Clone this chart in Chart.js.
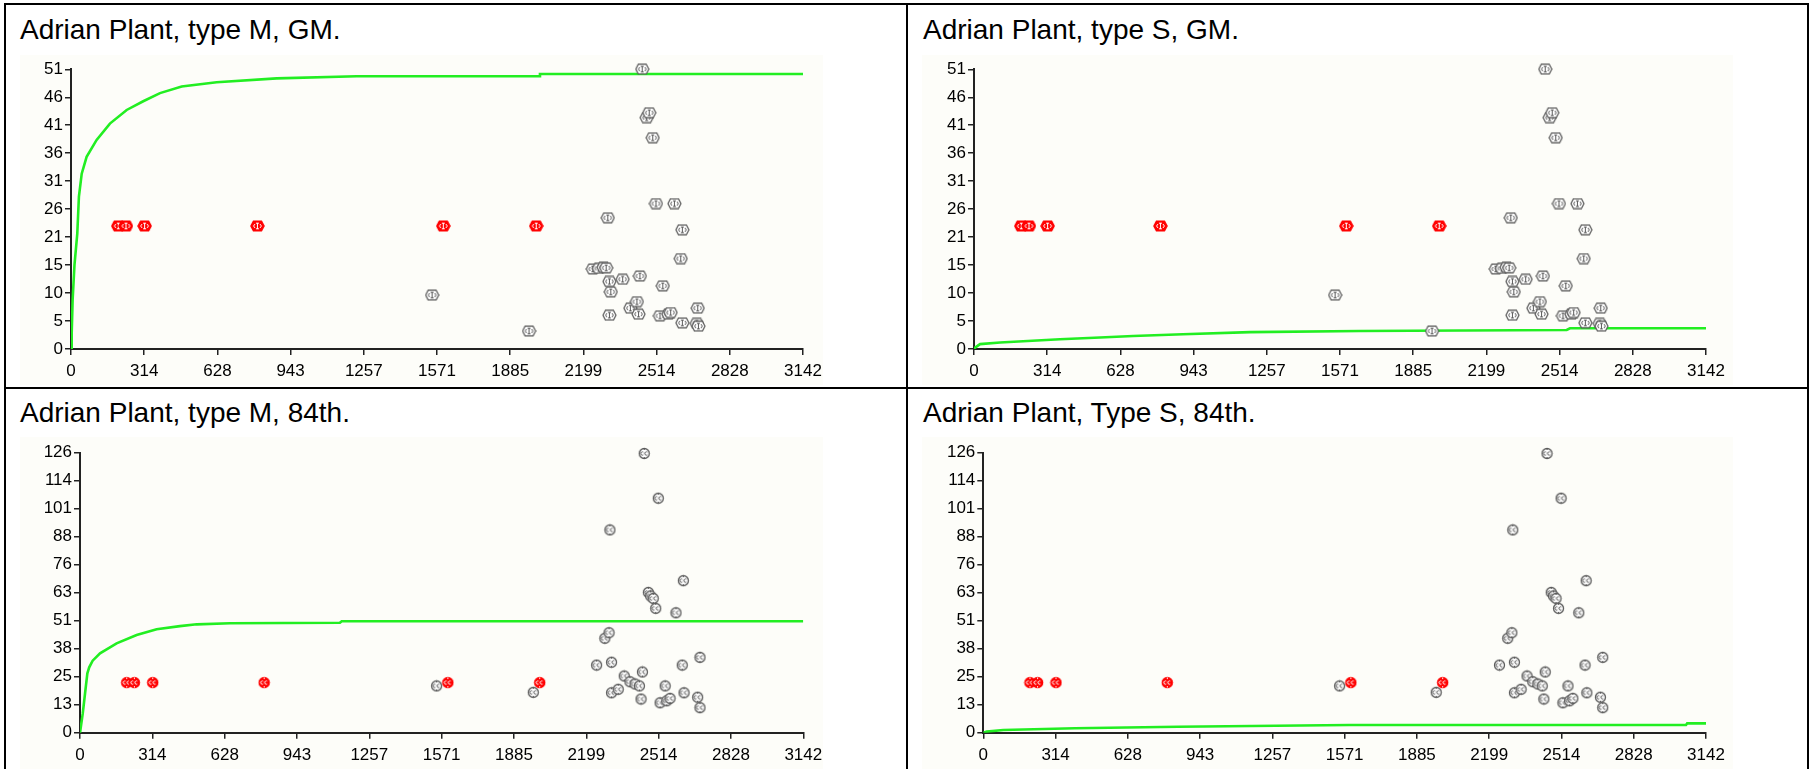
<!DOCTYPE html>
<html><head><meta charset="utf-8">
<script src="https://cdn.jsdelivr.net/npm/chart.js@4.4.0/dist/chart.umd.min.js"></script>
<style>
html,body{margin:0;padding:0;background:#fff;width:1809px;height:769px;overflow:hidden;position:relative;font-family:"Liberation Sans",Arial,sans-serif;}
.b{position:absolute;background:#000;}
.t{position:absolute;font-size:28px;line-height:28px;color:#000;white-space:nowrap;}
canvas{position:absolute;background:#fdfdf9;}
</style></head><body>
<div class="b" style="left:4px;top:3px;width:1805px;height:2px"></div>
<div class="b" style="left:4px;top:3px;width:2px;height:766px"></div>
<div class="b" style="left:906px;top:3px;width:2px;height:766px"></div>
<div class="b" style="left:1807px;top:3px;width:2px;height:766px"></div>
<div class="b" style="left:4px;top:387px;width:1805px;height:2px"></div>
<div class="t" style="left:20px;top:16px">Adrian Plant, type M, GM.</div>
<div class="t" style="left:923px;top:16px">Adrian Plant, type S, GM.</div>
<div class="t" style="left:20px;top:399px">Adrian Plant, type M, 84th.</div>
<div class="t" style="left:923px;top:399px">Adrian Plant, Type S, 84th.</div>
<canvas id="c1" width="803" height="330" style="left:20px;top:55px"></canvas>
<canvas id="c2" width="811" height="330" style="left:922px;top:55px"></canvas>
<canvas id="c3" width="803" height="332" style="left:20px;top:437px"></canvas>
<canvas id="c4" width="811" height="332" style="left:922px;top:437px"></canvas>
<script>
// ---- data ----
const xMax = 3142;
const xTickLabels = ['0','314','628','943','1257','1571','1885','2199','2514','2828','3142'];
const yMaxGM = 51.37;
const yTickLabelsGM = ['0','5','10','15','21','26','31','36','41','46','51'];
const yMax84 = 126.34;
const yTickLabels84 = ['0','13','25','38','51','63','76','88','101','114','126'];

const redX = [203, 236, 316, 800, 1598, 1997];
const redY = [22.6, 22.6, 22.6, 22.6, 22.6, 22.6];

const grayGMX = [1550,1966,2240,2266,2286,2297,2304,2311,2311,2317,2368,2401,2429,2436,2442,2452,2471,2482,2497,2511,2528,2540,2564,2574,2590,2617,2624,2624,2686,2690,2693];
const grayGMY = [9.9,3.3,14.7,14.8,15.0,14.9,24.1,12.4,6.2,10.5,12.8,7.5,8.7,6.4,13.4,51.4,42.5,43.4,38.8,26.7,6.1,11.6,6.4,6.7,26.7,16.6,21.9,4.8,4.7,7.5,4.2];

const gray84X = [1549,1969,2244,2280,2298,2302,2309,2309,2338,2364,2389,2411,2430,2437,2443,2451,2469,2479,2490,2501,2512,2520,2542,2549,2563,2589,2616,2621,2624,2683,2693,2693];
const gray84Y = [21.1,18.2,30.5,42.6,45.1,91.5,31.8,18.0,19.6,25.6,23.0,22.0,21.1,15.2,27.4,126.0,63.3,61.7,60.6,56.1,105.8,13.5,21.1,14.4,15.5,54.1,30.5,68.6,18.0,16.0,34.0,11.3];

const lineMGMX = [0,3,7,15,27,34,46,67,110,167,239,310,382,475,625,883,1226,2010,2013,3142];
const lineMGMY = [0,2.9,9.0,15.5,21.2,28.0,32.2,35.3,38.4,41.4,43.9,45.5,47.0,48.2,49.0,49.7,50.1,50.1,50.5,50.5];

const lineSGMX = [0,26,112,369,541,683,897,1185,1657,2544,2558,3142];
const lineSGMY = [0.1,0.9,1.2,1.8,2.1,2.4,2.7,3.1,3.3,3.5,3.8,3.8];

const lineM84X = [0,12,22,32,40,55,87,159,246,333,434,507,652,1129,1137,3142];
const lineM84Y = [0,8.7,17.8,26.8,29.5,32.5,35.8,40.3,44.1,46.7,48.1,48.9,49.4,49.6,50.3,50.3];

const lineS84X = [0,15,87,398,847,1592,3055,3060,3142];
const lineS84Y = [0,0.5,1.2,2.0,2.7,3.5,3.5,4.2,4.2];

// ---- helpers ----
const FONT = "'Liberation Sans', Arial, sans-serif";
function zip(xs, ys){ return xs.map((x,i)=>({x:x, y:ys[i]})); }

function markerGM(color, solid){
  const c = document.createElement('canvas'); c.width = 15; c.height = 12;
  const g = c.getContext('2d');
  g.lineWidth = solid ? 1.5 : 1.2; g.strokeStyle = color; g.fillStyle = solid ? color : '#fff';
  g.beginPath(); g.moveTo(1,6); g.lineTo(3.5,1.2); g.lineTo(11.5,1.2); g.lineTo(14,6); g.lineTo(11.5,10.8); g.lineTo(3.5,10.8); g.closePath();
  g.fill(); g.stroke();
  g.lineWidth = 1.0; g.strokeStyle = solid ? '#fff' : color;
  g.beginPath(); g.moveTo(7.5,3); g.lineTo(7.5,9);
  g.moveTo(6,3.2); g.lineTo(9,3.2); g.moveTo(6,8.8); g.lineTo(9,8.8);
  g.moveTo(5,4); g.lineTo(3.6,6); g.lineTo(5,8);
  g.moveTo(10,4); g.lineTo(11.4,6); g.lineTo(10,8);
  g.stroke();
  return c;
}
function marker84(color, solid){
  const c = document.createElement('canvas'); c.width = 13; c.height = 13;
  const g = c.getContext('2d');
  g.lineWidth = solid ? 1.5 : 1.3; g.strokeStyle = color; g.fillStyle = solid ? color : '#fff';
  g.beginPath(); g.arc(6.5,6.5,5,0,Math.PI*2); g.fill(); g.stroke();
  g.lineWidth = 1.0; g.strokeStyle = solid ? '#fff' : color;
  g.beginPath(); g.arc(4.6,6.5,1.7,0.35*Math.PI,1.65*Math.PI); g.stroke();
  g.beginPath(); g.arc(8.6,6.5,1.7,0.35*Math.PI,1.65*Math.PI); g.stroke();
  g.strokeStyle = solid ? '#fff' : color;
  g.beginPath(); g.moveTo(6.5,1.5); g.lineTo(6.5,3); g.moveTo(6.5,10); g.lineTo(6.5,11.5); g.stroke();
  return c;
}

function build(id, geo, yMax, yLabels, lineX, lineY, grayX, grayY, mk){
  const redStyle = mk('#ff0000', true);
  const grayStyle = mk('#5a5a5a', false);
  new Chart(document.getElementById(id), {
    type: 'scatter',
    data: { datasets: [
      { data: zip(redX, redY), pointStyle: redStyle, pointRadius: 6, pointHoverRadius: 6, order: 0, clip: false },
      { data: zip(grayX, grayY), pointStyle: grayStyle, pointRadius: 6, pointHoverRadius: 6, order: 1, clip: false },
      { data: zip(lineX, lineY), showLine: true, borderColor: '#22ee22', borderWidth: 2.6, pointRadius: 0, pointHoverRadius: 0, fill: false, tension: 0, order: 2 }
    ]},
    options: {
      responsive: false, animation: false, devicePixelRatio: 1,
      events: [],
      layout: { padding: { top: geo.pt, right: geo.pr, left: 0, bottom: 0 } },
      plugins: { legend: { display: false }, tooltip: { enabled: false }, title: { display: false } },
      scales: {
        x: {
          type: 'linear', min: 0, max: xMax,
          afterBuildTicks: s => { s.ticks = xTickLabels.map((_, i) => ({ value: i * xMax / 10 })); },
          afterFit: s => { s.height = geo.xh; s.paddingLeft = 0; s.paddingRight = 0; },
          ticks: { autoSkip: false, maxRotation: 0, minRotation: 0, padding: 6, color: '#000',
                   font: { family: FONT, size: 17 }, callback: (v, i) => xTickLabels[i] },
          grid: { drawOnChartArea: false, drawTicks: true, tickLength: 6, color: '#222', lineWidth: 1.5 },
          border: { display: true, color: '#222', width: 2 }
        },
        y: {
          type: 'linear', min: 0, max: yMax,
          afterBuildTicks: s => { s.ticks = yLabels.map((_, i) => ({ value: i * yMax / 10 })); },
          afterFit: s => { s.width = geo.yw; s.paddingTop = 0; s.paddingBottom = 0; },
          ticks: { autoSkip: false, padding: 2, color: '#000',
                   font: { family: FONT, size: 17 }, callback: (v, i) => yLabels[i] },
          grid: { drawOnChartArea: false, drawTicks: true, tickLength: 6, color: '#222', lineWidth: 1.5 },
          border: { display: true, color: '#222', width: 2 }
        }
      }
    }
  });
}

build('c1', {pt:14.3, pr:20, xh:36, yw:51}, yMaxGM, yTickLabelsGM, lineMGMX, lineMGMY, grayGMX, grayGMY, markerGM);
build('c2', {pt:14.3, pr:27, xh:36, yw:52}, yMaxGM, yTickLabelsGM, lineSGMX, lineSGMY, grayGMX, grayGMY, markerGM);
build('c3', {pt:15.7, pr:19.7, xh:36.3, yw:60}, yMax84, yTickLabels84, lineM84X, lineM84Y, gray84X, gray84Y, marker84);
build('c4', {pt:15.7, pr:27, xh:36.3, yw:61.3}, yMax84, yTickLabels84, lineS84X, lineS84Y, gray84X, gray84Y, marker84);
</script>
</body></html>
